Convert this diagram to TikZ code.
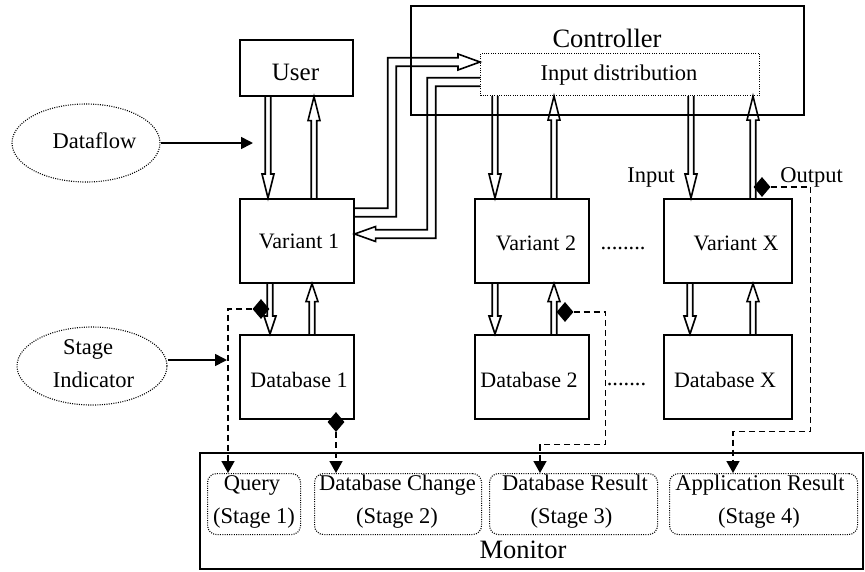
\documentclass[tikz,border=0pt]{standalone}
\usepackage{fontspec}
\setmainfont{Liberation Serif}
\usetikzlibrary{arrows.meta,shapes.geometric,calc}

\pgfdeclarelayer{pipes}
\pgfsetlayers{pipes,main}

\tikzset{
  blk/.style={draw, line width=1.6pt, inner sep=0pt, anchor=north west},
  dotbox/.style={draw, line width=1.1pt, dash pattern=on 1pt off 1.3pt, inner sep=0pt, anchor=north west},
  stagebox/.style={dotbox, rounded corners=9pt},
  oval/.style={ellipse, draw, line width=1.1pt, dash pattern=on 1pt off 1.3pt, inner sep=0pt},
  txt/.style={anchor=base, inner sep=0pt, font=\fontsize{22.5}{27}\selectfont},
  bigtxt/.style={txt, font=\fontsize{26.5}{31}\selectfont},
  pipe/.style={draw=black, fill=white, line width=1.6pt, line join=miter},
  tap/.style={diamond, fill=black, inner sep=0pt, minimum width=17pt, minimum height=20pt},
  dashflow/.style={line width=1.6pt, dash pattern=on 6pt off 4pt, -{Triangle[length=12pt,width=13pt]}},
  flow/.style={line width=1.6pt, -{Triangle[length=12pt,width=12pt]}}
}

% vertical hollow data pipe: x, tail anchor, tip anchor, signed head length (+ = pointing down)
\newcommand\vpipe[4]{%
  \filldraw[pipe] let \p1=(#2), \p2=(#3) in
    ({#1-2.75},\y1) -- ({#1-2.75},{\y2+(#4pt)}) -- ({#1-6},{\y2+(#4pt)}) -- (#1,\y2)
    -- ({#1+6},{\y2+(#4pt)}) -- ({#1+2.75},{\y2+(#4pt)}) -- ({#1+2.75},\y1);}

\begin{document}
\begin{tikzpicture}[x=1pt,y=-1pt]
\useasboundingbox (0,0) rectangle (865,571);

% ---- blocks ----
\node[blk, minimum width=393pt, minimum height=109pt] (ctrl) at (410,5) {};
\node[dotbox, minimum width=279pt, minimum height=42pt] (indist) at (480,53) {};
\node[blk, minimum width=113pt, minimum height=56pt] (user) at (239,39) {};
\node[blk, minimum width=114pt, minimum height=84pt] (v1) at (239,198) {};
\node[blk, minimum width=114pt, minimum height=84pt] (db1) at (239,334) {};
\node[blk, minimum width=114pt, minimum height=84pt] (v2) at (474,198) {};
\node[blk, minimum width=114pt, minimum height=84pt] (db2) at (474,334) {};
\node[blk, minimum width=128pt, minimum height=84pt] (vx) at (663,198) {};
\node[blk, minimum width=128pt, minimum height=84pt] (dbx) at (663,334) {};
\node[blk, minimum width=663pt, minimum height=116pt] (mon) at (199,452) {};
\node[stagebox, minimum width=93pt, minimum height=61pt] (q) at (207,473) {};
\node[stagebox, minimum width=167pt, minimum height=61pt] (dbc) at (314,473) {};
\node[stagebox, minimum width=168pt, minimum height=61pt] (dbr) at (489,473) {};
\node[stagebox, minimum width=188pt, minimum height=61pt] (ar) at (669,473) {};
\node[oval, minimum width=148pt, minimum height=78pt] (df) at (86,143) {};
\node[oval, minimum width=150pt, minimum height=78pt] (si) at (92,366) {};

% ---- labels ----
\node[bigtxt] (ctrl-l) at (607,47) {Controller};
\node[txt] (indist-l) at (619,80) {Input distribution};
\node[txt, font=\fontsize{25}{30}\selectfont] (user-l) at (295.5,80) {User};
\node[txt, font=\fontsize{22}{26}\selectfont] (v1-l) at (299,248) {Variant 1};
\node[txt, font=\fontsize{22}{26}\selectfont] (v2-l) at (536,250) {Variant 2};
\node[txt, font=\fontsize{22}{26}\selectfont] (vx-l) at (736,250) {Variant X};
\node[txt, font=\fontsize{22}{26}\selectfont] (db1-l) at (299,387) {Database 1};
\node[txt, font=\fontsize{22}{26}\selectfont] (db2-l) at (529,387) {Database 2};
\node[txt, font=\fontsize{22}{26}\selectfont] (dbx-l) at (725,387) {Database X};
\node[txt] (df-l) at (94.5,148) {Dataflow};
\node[txt] (si-l1) at (88,354) {Stage};
\node[txt] (si-l2) at (93.5,387) {Indicator};
\node[txt] (in-l) at (651,182) {Input};
\node[txt] (out-l) at (811.5,182) {Output};
\node[txt] (dots-v) at (623,249) {........};
\node[txt] (dots-d) at (626.5,385) {.......};
\node[bigtxt] (mon-l) at (523,558) {Monitor};
\node[txt] (q-l1) at (252,490) {Query};
\node[txt] (q-l2) at (254,523) {(Stage 1)};
\node[txt] (dbc-l1) at (397.5,490) {Database Change};
\node[txt] (dbc-l2) at (397,523) {(Stage 2)};
\node[txt] (dbr-l1) at (575,490) {Database Result};
\node[txt] (dbr-l2) at (571.5,523) {(Stage 3)};
\node[txt] (ar-l1) at (760,490) {Application Result};
\node[txt] (ar-l2) at (759,523) {(Stage 4)};

% ---- hollow data pipes ----
\begin{pgfonlayer}{pipes}
\vpipe{268}{user.south}{v1.north}{24}
\vpipe{314}{v1.north}{user.south}{-24}
\vpipe{270}{v1.south}{db1.north}{18}
\vpipe{312}{db1.north}{v1.south}{-18}
\vpipe{495}{indist.south}{v2.north}{24}
\vpipe{554}{v2.north}{indist.south}{-24}
\vpipe{495}{v2.south}{db2.north}{18}
\vpipe{554}{db2.north}{v2.south}{-18}
\vpipe{691}{indist.south}{vx.north}{24}
\vpipe{753}{vx.north}{indist.south}{-24}
\vpipe{690}{vx.south}{dbx.north}{18}
\vpipe{753}{dbx.north}{vx.south}{-18}
% Variant 1 -> input distribution
\filldraw[pipe] let \p1=(v1.east), \p2=(indist.west) in
  (\x1,216.75) -- (396.25,216.75) -- (396.25,66.25) -- ({\x2-22pt},66.25)
  -- ({\x2-22pt},70) -- (\x2,62) -- ({\x2-22pt},54) -- ({\x2-22pt},57.75)
  -- (387.75,57.75) -- (387.75,208.25) -- (\x1,208.25);
% input distribution -> Variant 1
\filldraw[pipe] let \p1=(indist.west), \p2=(v1.east) in
  (\x1,77.75) -- (427.25,77.75) -- (427.25,229.75) -- ({\x2+21pt},229.75)
  -- ({\x2+21pt},226.5) -- (\x2,234) -- ({\x2+21pt},241.5) -- ({\x2+21pt},238.25)
  -- (435.75,238.25) -- (435.75,86.25) -- (\x1,86.25);
\end{pgfonlayer}

% ---- stage taps ----
\node[tap] (t1) at (261,309) {};
\node[tap] (t2) at (336,422) {};
\node[tap] (t3) at (565,312) {};
\node[tap] (t4) at (762,187) {};

\draw[dashflow] (t1.west) -| ([xshift=21pt]q.north west);
\draw[dashflow] (t2.south) -- (t2.south |- dbc.north);
\draw[dashflow] (t3.east) -| ([xshift=16pt,yshift=-25pt]db2.south east)
  -| ([xshift=51pt]dbr.north west);
\draw[dashflow] (t4.east) -| ([xshift=18pt,yshift=-12pt]dbx.south east)
  -| ([xshift=64pt]ar.north west);

% ---- legend arrows ----
\coordinate (df-end) at (253,143);
\coordinate (si-end) at (227,360);
\draw[flow] (df.east) -- (df-end);
\draw[flow] (si-end -| si.east) -- (si-end);
\end{tikzpicture}
\end{document}
